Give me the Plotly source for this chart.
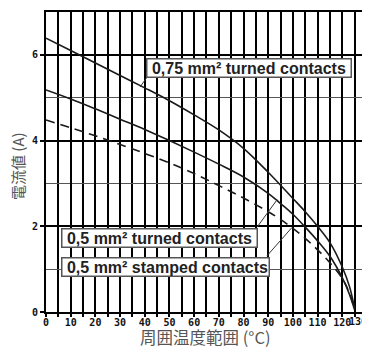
import plotly.graph_objects as go

# (temperature in degC, current in A)
t_075_turned = [0, 10, 20, 30, 40, 50, 60, 70, 80, 90, 100, 105, 110, 115, 120, 123, 125]
i_075_turned = [6.39, 6.10, 5.81, 5.52, 5.23, 4.93, 4.60, 4.25, 3.82, 3.26, 2.65, 2.34,
                2.0, 1.62, 1.05, 0.58, 0.08]

t_05_turned = [0, 10, 20, 30, 40, 50, 60, 70, 80, 90, 95, 100, 105, 110, 115, 120, 123, 125]
i_05_turned = [5.18, 4.97, 4.74, 4.50, 4.26, 4.0, 3.73, 3.45, 3.15, 2.77, 2.53, 2.28,
               1.98, 1.66, 1.30, 0.80, 0.40, 0.05]

t_05_stamped = [0, 10, 20, 30, 40, 50, 60, 70, 80, 90, 95, 100, 105, 110, 115, 120, 123, 125]
i_05_stamped = [4.48, 4.30, 4.11, 3.91, 3.70, 3.48, 3.23, 2.95, 2.66, 2.34, 2.16, 1.95,
                1.72, 1.45, 1.15, 0.78, 0.43, 0.05]

x_ticks = list(range(0, 130, 10))
y_ticks = [0, 2, 4, 6]

NB = "\u00a0"
labels = [NB + "0,75 mm² turned contacts" + NB,
          NB + "0,5 mm² turned contacts" + NB,
          NB + "0,5 mm² stamped contacts"]

X_MAX = 128.4

fig = go.Figure()
fig.add_trace(go.Scatter(x=t_075_turned, y=i_075_turned, mode="lines",
                         line=dict(color="#1a1a1a", width=1.6, shape="spline", smoothing=1)))
fig.add_trace(go.Scatter(x=t_05_turned, y=i_05_turned, mode="lines",
                         line=dict(color="#1a1a1a", width=1.6, shape="spline", smoothing=1)))
fig.add_trace(go.Scatter(x=t_05_stamped, y=i_05_stamped, mode="lines",
                         line=dict(color="#1a1a1a", width=1.6, dash="9px,6px",
                                   shape="spline", smoothing=1)))

tick_font = dict(family="DejaVu Sans Mono", size=10, color="#111", weight="bold")
title_font = dict(family="Noto Sans CJK JP", size=16, color="#555")

# page body has an 8px margin, so the figure is 8px smaller than the window
fig.update_layout(
    width=362, height=341,
    margin=dict(l=38, r=7, t=4, b=37),
    paper_bgcolor="white", plot_bgcolor="white",
    showlegend=False,
    xaxis=dict(range=[0, X_MAX], tickvals=x_ticks, ticks="outside", ticklen=3,
               tickwidth=1.5, tickcolor="black", automargin=False, ticklabelstandoff=-3,
               showline=True, linecolor="black", linewidth=2, mirror=True,
               showgrid=True, gridcolor="black", gridwidth=1.5,
               minor=dict(dtick=5, tick0=0, ticks="outside", ticklen=3, tickcolor="black",
                          showgrid=True, gridcolor="black", gridwidth=1.5),
               tickfont=tick_font, zeroline=False),
    yaxis=dict(range=[0, 7], tickvals=y_ticks, ticks="outside", ticklen=4,
               tickwidth=2, tickcolor="black", automargin=False,
               showline=True, linecolor="black", linewidth=2, mirror=True,
               showgrid=True, gridcolor="black", gridwidth=2,
               minor=dict(dtick=1, tick0=0, showgrid=True, gridcolor="#555", gridwidth=1),
               tickfont=tick_font, zeroline=False),
)

# axis titles
fig.add_annotation(x=0.5, y=-0.083, xref="paper", yref="paper", text="周囲温度範囲 (°C)",
                   showarrow=False, font=dict(title_font, size=16.5), yanchor="middle")
fig.add_annotation(x=-0.088, y=0.487, xref="paper", yref="paper", text="電流値 (A)",
                   showarrow=False, font=dict(title_font, size=15), textangle=-90,
                   xanchor="center")

box_font = dict(family="Liberation Sans", size=16, color="#222", weight="bold")
# label boxes
fig.add_annotation(x=82.4, y=5.70, text=labels[0], showarrow=False, font=box_font,
                   bgcolor="white", bordercolor="#555", borderwidth=1.5, borderpad=0)
fig.add_annotation(x=6.1, y=1.73, xanchor="left", text=labels[1], showarrow=False, font=box_font,
                   bgcolor="white", bordercolor="#555", borderwidth=1.5, borderpad=0)
fig.add_annotation(x=6.1, y=1.05, xanchor="left", text=labels[2], showarrow=False, font=box_font,
                   bgcolor="white", bordercolor="#555", borderwidth=1.5, borderpad=0)

# leader lines from boxes to curves
for x0, y0, x1, y1 in [(38.1, 5.25, 41.3, 5.51), (85.5, 1.98, 93.6, 2.62), (89.5, 1.31, 99.6, 1.97)]:
    fig.add_shape(type="line", x0=x0, y0=y0, x1=x1, y1=y1, xref="x", yref="y",
                  line=dict(color="#333", width=1), layer="above")

# 130 label sits past the frame edge
fig.add_annotation(x=1.02, y=-0.03, xref="paper", yref="paper", text="130",
                   showarrow=False, font=tick_font, yanchor="middle")

fig.write_html("out.html")
